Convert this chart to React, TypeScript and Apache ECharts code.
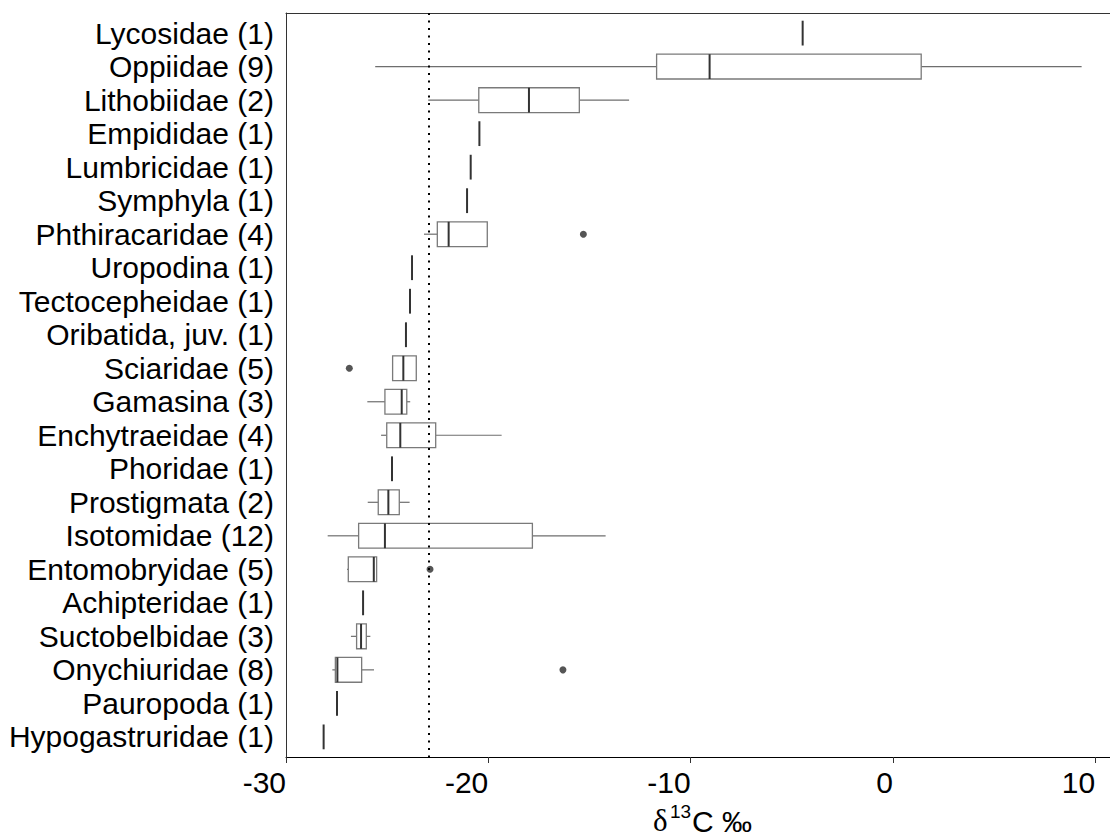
import React, { useEffect, useRef } from "react";
import * as echarts from "echarts";

const categories = [
  "Lycosidae (1)", "Oppiidae (9)", "Lithobiidae (2)", "Empididae (1)", "Lumbricidae (1)",
  "Symphyla (1)", "Phthiracaridae (4)", "Uropodina (1)", "Tectocepheidae (1)", "Oribatida, juv. (1)",
  "Sciaridae (5)", "Gamasina (3)", "Enchytraeidae (4)", "Phoridae (1)", "Prostigmata (2)",
  "Isotomidae (12)", "Entomobryidae (5)", "Achipteridae (1)", "Suctobelbidae (3)", "Onychiuridae (8)",
  "Pauropoda (1)", "Hypogastruridae (1)",
];
const whiskerLow = [-4.46, -25.59, -22.97, -20.44, -20.87, -21.05, -23.18, -23.77, -23.87, -24.07, -24.73, -25.98, -25.3, -24.76, -25.96, -27.94, -26.98, -26.19, -26.79, -27.71, -27.48, -28.14];
const q1 = [-4.46, -11.68, -20.47, -20.44, -20.87, -21.05, -22.52, -23.77, -23.87, -24.07, -24.73, -25.11, -25.02, -24.76, -25.44, -26.41, -26.92, -26.19, -26.51, -27.56, -27.48, -28.14];
const median = [-4.46, -9.06, -17.99, -20.44, -20.87, -21.05, -21.96, -23.77, -23.87, -24.07, -24.2, -24.28, -24.35, -24.76, -24.94, -25.11, -25.66, -26.19, -26.29, -27.46, -27.48, -28.14];
const q3 = [-4.46, 1.4, -15.5, -20.44, -20.87, -21.05, -20.05, -23.77, -23.87, -24.07, -23.56, -24.03, -22.6, -24.76, -24.4, -17.82, -25.52, -26.19, -26.03, -26.26, -27.48, -28.14];
const whiskerHigh = [-4.46, 9.33, -13.04, -20.44, -20.87, -21.05, -20.05, -23.77, -23.87, -24.07, -23.56, -23.86, -19.34, -24.76, -23.89, -14.2, -25.52, -26.19, -25.83, -25.65, -27.48, -28.14];
const outliers: [number, number][] = [[6, -15.3], [10, -26.87], [16, -22.88], [19, -16.31]];
const referenceValue = -22.96;
const xTicks = [-30, -20, -10, 0, 10];

export default function App() {
  const ref = useRef<HTMLDivElement>(null);
  useEffect(() => {
    if (!ref.current) return;
    const chart = echarts.init(ref.current, undefined, { renderer: "svg" });
    const boxData = categories.map((_, i) => [i, whiskerLow[i], q1[i], median[i], q3[i], whiskerHigh[i]]);
    const font = "'Liberation Sans', Arial, sans-serif";
    chart.setOption({
      animation: false,
      backgroundColor: "#fff",
      grid: {
        left: 286, top: 13, width: 829, height: 744,
        outerBoundsMode: "none", containLabel: false, show: false,
      },
      xAxis: [
        {
          type: "value", min: -30, max: 10.98, interval: 10, position: "bottom",
          axisLine: { show: true, onZero: false, lineStyle: { color: "#000", width: 1 } },
          axisTick: { show: true, length: 6, lineStyle: { color: "#333" }, customValues: xTicks },
          splitLine: { show: false },
          axisLabel: {
            customValues: xTicks, align: "right", margin: 10,
            color: "#000", fontSize: 30, fontFamily: font,
          },
        },
        {
          type: "value", min: -30, max: 10.98, position: "top",
          axisLine: { show: true, onZero: false, lineStyle: { color: "#333", width: 1 } },
          axisTick: { show: false }, axisLabel: { show: false }, splitLine: { show: false },
        },
      ],
      yAxis: {
        type: "value", inverse: true, min: -0.6, max: 21.6,
        axisLine: { show: true, onZero: false, lineStyle: { color: "#333" } },
        axisTick: { show: false },
        splitLine: { show: false },
        axisLabel: {
          customValues: categories.map((_, i) => i),
          formatter: (v: number) => categories[Math.round(v)] ?? "",
          margin: 12, color: "#000", fontSize: 30, fontFamily: font,
        },
      },
      graphic: [
        {
          type: "group",
          children: [
            { type: "text", x: 653, y: 820.6, style: { text: "δ", font: "31px 'Liberation Serif', serif", fill: "#000", verticalAlign: "middle" } },
            { type: "text", x: 670, y: 811, style: { text: "13", font: "19px 'Liberation Sans', Arial, sans-serif", fill: "#000", verticalAlign: "middle" } },
            { type: "text", x: 692, y: 821.1, style: { text: "C ‰", font: "30px 'Liberation Sans', Arial, sans-serif", fill: "#000", verticalAlign: "middle" } },
          ],
        },
      ],
      series: [
        {
          type: "custom",
          data: boxData,
          encode: { x: [1, 2, 3, 4, 5], y: 0 },
          renderItem: (params: any, api: any) => {
            const idx = api.value(0);
            const lo = api.value(1), a = api.value(2), m = api.value(3), b = api.value(4), hi = api.value(5);
            const yc = api.coord([m, idx])[1];
            const half = api.size([0, 1])[1] * 0.37;
            const px = (v: number) => api.coord([v, idx])[0];
            const children: any[] = [];
            if (lo < a) children.push({ type: "line", shape: { x1: px(lo), y1: yc, x2: px(a), y2: yc }, style: { stroke: "#6e6e6e", lineWidth: 1.2 } });
            if (hi > b) children.push({ type: "line", shape: { x1: px(b), y1: yc, x2: px(hi), y2: yc }, style: { stroke: "#6e6e6e", lineWidth: 1.2 } });
            if (b > a) children.push({ type: "rect", shape: { x: px(a), y: yc - half, width: px(b) - px(a), height: half * 2 }, style: { fill: "#fff", stroke: "#7a7a7a", lineWidth: 1.3 } });
            children.push({ type: "line", shape: { x1: px(m), y1: yc - half, x2: px(m), y2: yc + half }, style: { stroke: "#333", lineWidth: 2 } });
            return { type: "group", children };
          },
          z: 2,
        },
        {
          type: "scatter",
          data: outliers.map(([i, v]) => [v, i]),
          symbol: "circle", symbolSize: 7,
          itemStyle: { color: "#2b2b2b" },
          z: 3,
          markLine: {
            silent: true, symbol: "none", label: { show: false },
            lineStyle: { color: "#000", width: 2, type: [2, 5.5] },
            data: [{ xAxis: referenceValue }],
          },
        },
      ],
    });
    return () => chart.dispose();
  }, []);
  return <div ref={ref} style={{ position: "fixed", left: 0, top: 0, width: 1110, height: 838 }} />;
}
